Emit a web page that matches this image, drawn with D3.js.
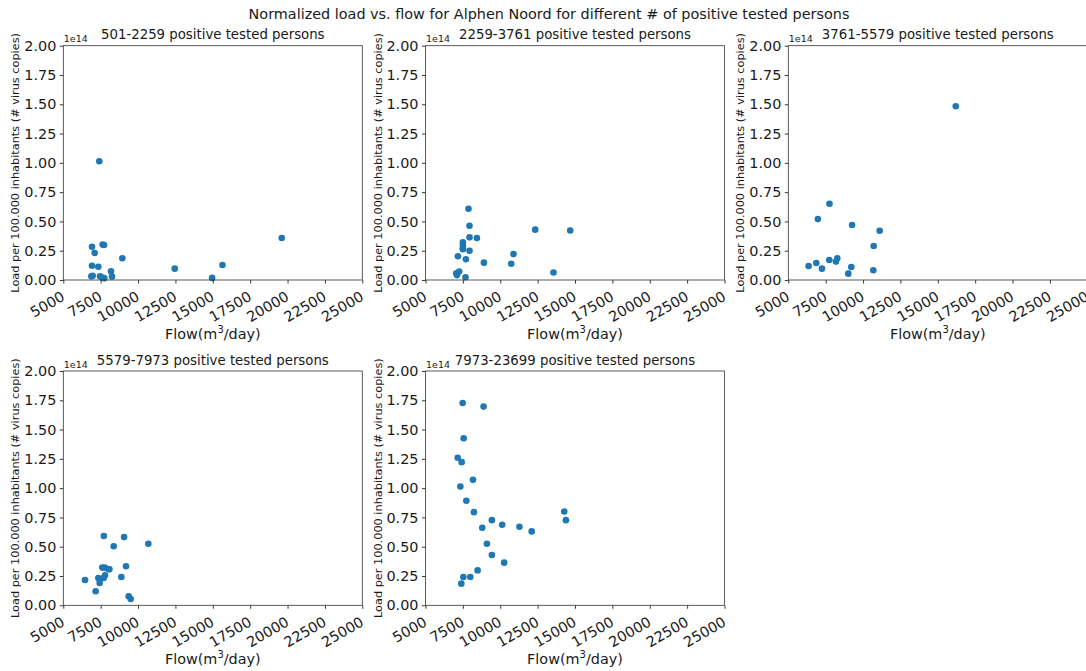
<!DOCTYPE html>
<html>
<head>
<meta charset="utf-8">
<script src="https://cdn.jsdelivr.net/npm/d3@7"></script>
<style>
  html, body { margin: 0; padding: 0; background: #fff; }
  svg { display: block; font-family: "DejaVu Sans", sans-serif; }
</style>
</head>
<body>
<svg id="chart" width="1086" height="671"></svg>
<script>
// Groups of positive tested persons (one panel each)
const groups = ["501-2259", "2259-3761", "3761-5579", "5579-7973", "7973-23699"];

// Flow (m3/day) and load per 100.000 inhabitants (units of 1e14 virus copies)
const flow1 = [7408, 6920, 7634, 7723, 7099, 8950, 6920, 7344, 8191, 8258, 6876, 6965, 7455, 7634, 7745, 12455, 14955, 15647, 19609];
const load1 = [1.014, 0.283, 0.302, 0.299, 0.230, 0.186, 0.121, 0.113, 0.074, 0.029, 0.031, 0.036, 0.031, 0.020, 0.014, 0.097, 0.018, 0.128, 0.358];

const flow2 = [7876, 7943, 7943, 8438, 7501, 7501, 7501, 7501, 7943, 7167, 7702, 8906, 10732, 10886, 12338, 14679, 13562, 7254, 7100, 7060, 7676];
const load2 = [0.608, 0.463, 0.364, 0.359, 0.322, 0.300, 0.275, 0.262, 0.250, 0.203, 0.177, 0.148, 0.139, 0.221, 0.430, 0.423, 0.064, 0.073, 0.042, 0.058, 0.024];

const flow3 = [16200, 7755, 6978, 9266, 11111, 10711, 8278, 7743, 8189, 6873, 6360, 7252, 9215, 9014, 10687];
const load3 = [1.483, 0.651, 0.520, 0.469, 0.420, 0.290, 0.185, 0.171, 0.157, 0.145, 0.120, 0.097, 0.111, 0.054, 0.083];

const flow4 = [8370, 6452, 7165, 7344, 7433, 7611, 7767, 8080, 7790, 7700, 8883, 9195, 9373, 9507, 9066, 7711, 10689, 8000];
const load4 = [0.504, 0.216, 0.120, 0.233, 0.191, 0.322, 0.322, 0.307, 0.256, 0.233, 0.242, 0.333, 0.077, 0.054, 0.582, 0.591, 0.526, 0.310];

const flow5 = [7486, 8885, 7553, 7153, 7420, 8175, 7331, 7731, 8241, 14280, 14391, 9440, 10128, 11283, 8796, 12104, 9107, 9440, 10261, 8485, 7531, 7997, 7398];
const load5 = [1.727, 1.696, 1.426, 1.259, 1.222, 1.071, 1.014, 0.892, 0.795, 0.801, 0.727, 0.727, 0.688, 0.670, 0.662, 0.631, 0.526, 0.429, 0.364, 0.298, 0.241, 0.241, 0.185];

const flows = [flow1, flow2, flow3, flow4, flow5];
const loads = [load1, load2, load3, load4, load5];

// Axis settings
const loadExponent = 1e14;
const xTicks = [5000, 7500, 10000, 12500, 15000, 17500, 20000, 22500, 25000];
const yTicks = [0, 0.25, 0.5, 0.75, 1.0, 1.25, 1.5, 1.75, 2.0];

const mainTitle = "Normalized load vs. flow for Alphen Noord for different # of positive tested persons";
const yLabel = "Load per 100.000 inhabitants (# virus copies)";

// Layout
const axW = 299, axH = 234.3;
const colX = [63.3, 425.5, 788.3];
const rowY = [45.7, 371];
const textColor = "#1a1a1a";
const dotColor = "#1f77b4";

const svg = d3.select("#chart");

svg.append("text")
  .attr("x", 549).attr("y", 18.5)
  .attr("text-anchor", "middle")
  .attr("font-size", 14.4)
  .attr("fill", textColor)
  .text(mainTitle);

groups.forEach((g, i) => {
  const ox = colX[i % 3], oy = rowY[Math.floor(i / 3)];
  const x = d3.scaleLinear().domain([5000, 25000]).range([0, axW]);
  const y = d3.scaleLinear().domain([0, 2 * loadExponent]).range([axH, 0]);

  const ax = svg.append("g").attr("transform", `translate(${ox},${oy})`);

  // points
  ax.append("g").selectAll("circle")
    .data(flows[i].map((f, k) => ({ f, l: loads[i][k] * loadExponent })))
    .join("circle")
    .attr("cx", d => x(d.f))
    .attr("cy", d => y(d.l))
    .attr("r", 3.3)
    .attr("fill", dotColor);

  // y axis
  const yAxis = d3.axisLeft(y)
    .tickValues(yTicks.map(v => v * loadExponent))
    .tickFormat(v => d3.format(".2f")(v / loadExponent))
    .tickSize(3.5).tickPadding(3.5);
  const yg = ax.append("g").call(yAxis);
  yg.select(".domain").remove();
  yg.selectAll("line").attr("stroke", "#222").attr("stroke-width", 0.9);
  yg.selectAll("text").attr("font-size", 14.4).attr("fill", textColor)
    .attr("font-family", "DejaVu Sans");

  // x axis with rotated labels
  const xAxis = d3.axisBottom(x).tickValues(xTicks).tickSize(3.5).tickFormat(d3.format("d"));
  const xg = ax.append("g").attr("transform", `translate(0,${axH})`).call(xAxis);
  xg.select(".domain").remove();
  xg.selectAll("line").attr("stroke", "#222").attr("stroke-width", 0.9);
  xg.selectAll("text")
    .attr("font-size", 14.4).attr("fill", textColor)
    .attr("font-family", "DejaVu Sans")
    .attr("text-anchor", "end")
    .attr("dy", null)
    .attr("y", null)
    .attr("transform", "translate(2,19.5) rotate(-30)");

  // frame
  ax.append("rect")
    .attr("width", axW).attr("height", axH)
    .attr("fill", "none").attr("stroke", "#333").attr("stroke-width", 0.8);

  // subplot title
  ax.append("text")
    .attr("x", axW / 2).attr("y", -6.4)
    .attr("text-anchor", "middle")
    .attr("font-size", 13.3)
    .attr("fill", textColor)
    .text(`${g} positive tested persons`);

  // exponent marker
  ax.append("text")
    .attr("x", 0.5).attr("y", -3.5)
    .attr("font-size", 9.5)
    .attr("fill", textColor)
    .text("1e14");

  // y label
  ax.append("text")
    .attr("transform", `translate(-44,${axH / 2}) rotate(-90)`)
    .attr("text-anchor", "middle")
    .attr("font-size", 11.3)
    .attr("fill", textColor)
    .text(yLabel);

  // x label with superscript
  const xl = ax.append("text")
    .attr("x", axW / 2).attr("y", axH + 59)
    .attr("text-anchor", "middle")
    .attr("font-size", 14.4)
    .attr("fill", textColor);
  xl.append("tspan").text("Flow(m");
  xl.append("tspan").attr("font-size", 10).attr("dy", -6).text("3");
  xl.append("tspan").attr("dy", 6).text("/day)");
});
</script>
</body>
</html>
